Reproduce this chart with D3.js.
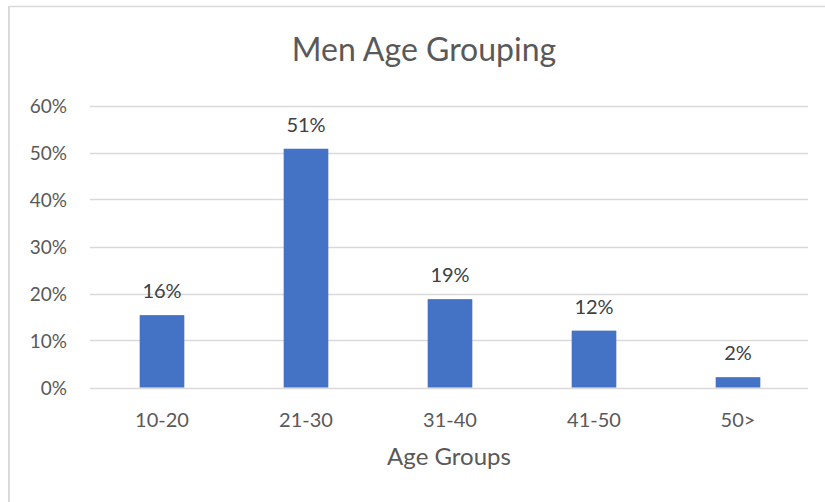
<!DOCTYPE html>
<html lang="en">
<head>
  <meta charset="UTF-8">
  <title>Men Age Grouping</title>
  <style>
    body { margin: 0; background: #fff; }
    svg text { font-family: Lato, "Open Sans", sans-serif; fill: #595959; }
  </style>
</head>
<body>
  <svg id="grafico" width="825" height="502"></svg>

  <script src="https://d3js.org/d3.v7.min.js"></script>
  <script>
    // dados
    const categorias = ['10-20', '21-30', '31-40', '41-50', '50>'];
    const valores = [0.154, 0.508, 0.188, 0.121, 0.022];
    const rotulos = ['16%', '51%', '19%', '12%', '2%'];
    const ticksY = [0, 0.1, 0.2, 0.3, 0.4, 0.5, 0.6];

    const svg = d3.select('#grafico');

    // moldura (só borda esquerda e de cima aparecem)
    svg.append('line')
      .attr('x1', 9).attr('y1', 6).attr('x2', 9).attr('y2', 502)
      .attr('stroke', '#d9d9d9').attr('stroke-width', 2);
    svg.append('line')
      .attr('x1', 8).attr('y1', 6.5).attr('x2', 825).attr('y2', 6.5)
      .attr('stroke', '#d9d9d9').attr('stroke-width', 1.5);

    const x = d3.scaleBand()
      .domain(categorias)
      .range([90, 810])
      .paddingInner(0.69)
      .paddingOuter(0.345);

    const y = d3.scaleLinear()
      .domain([0, 0.6])
      .range([387.5, 105.5]);

    // linhas de grade
    svg.append('g')
      .selectAll('line')
      .data(ticksY)
      .enter().append('line')
      .attr('x1', 90)
      .attr('x2', 808)
      .attr('y1', d => Math.round(y(d)) + 0.5)
      .attr('y2', d => Math.round(y(d)) + 0.5)
      .attr('stroke', '#d9d9d9')
      .attr('stroke-width', 1.5);

    // eixo y
    const eixoY = svg.append('g')
      .attr('transform', 'translate(67,0)')
      .call(d3.axisLeft(y).tickValues(ticksY).tickFormat(d3.format('.0%')).tickSize(0).tickPadding(0));
    eixoY.select('.domain').remove();
    eixoY.selectAll('text')
      .style('font-size', '19px')
      .attr('dy', '0.36em')
      .attr('fill', '#595959');

    // eixo x
    const eixoX = svg.append('g')
      .attr('transform', 'translate(0,427)')
      .call(d3.axisBottom(x).tickSize(0).tickPadding(0));
    eixoX.select('.domain').remove();
    eixoX.selectAll('text')
      .attr('dy', 0)
      .style('font-size', '20px')
      .attr('fill', '#595959');

    // barras
    svg.append('g')
      .selectAll('rect')
      .data(valores)
      .enter().append('rect')
      .attr('x', (d, i) => x(categorias[i]))
      .attr('y', d => y(d))
      .attr('width', x.bandwidth())
      .attr('height', d => y(0) - y(d))
      .attr('fill', '#4472c4');

    // rótulos dos valores
    svg.append('g')
      .selectAll('text')
      .data(valores)
      .enter().append('text')
      .attr('x', (d, i) => x(categorias[i]) + x.bandwidth() / 2)
      .attr('y', d => y(d) - 17)
      .attr('text-anchor', 'middle')
      .style('font-size', '20px')
      .style('fill', '#404040')
      .text((d, i) => rotulos[i]);

    // título
    svg.append('text')
      .attr('x', 424)
      .attr('y', 61)
      .attr('text-anchor', 'middle')
      .style('font-size', '32px')
      .text('Men Age Grouping');

    // título do eixo x
    svg.append('text')
      .attr('x', 449)
      .attr('y', 465)
      .attr('text-anchor', 'middle')
      .style('font-size', '24px')
      .text('Age Groups');
  </script>
</body>
</html>
